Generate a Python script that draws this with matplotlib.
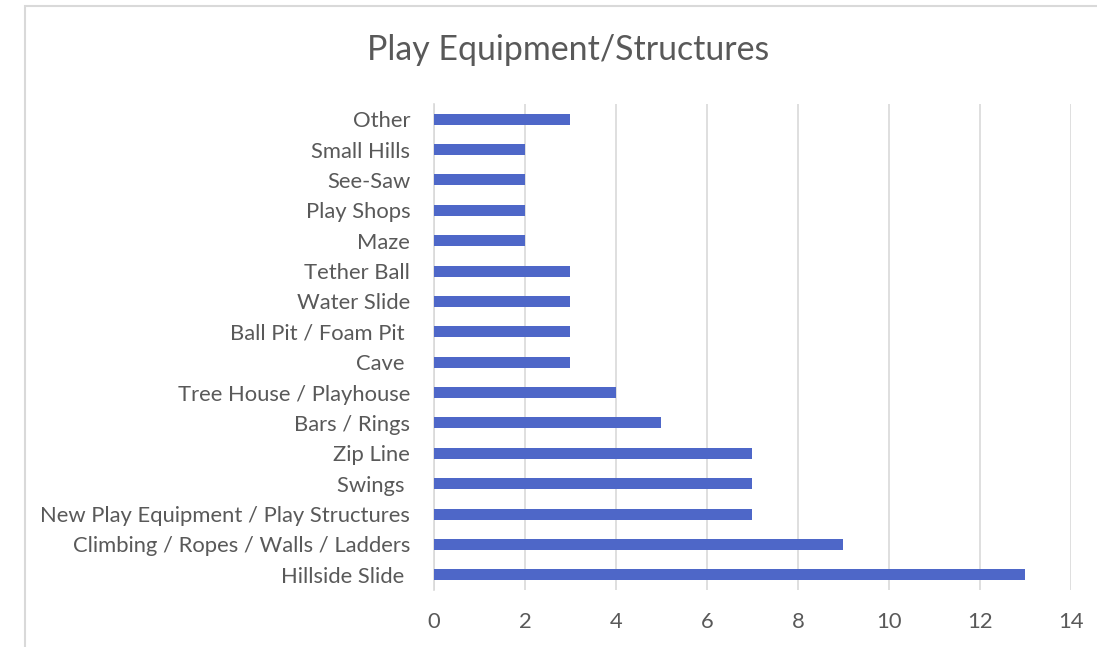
import matplotlib.pyplot as plt
from matplotlib.patches import Rectangle

# categories bottom to top, as drawn
categories = ["Hillside Slide ", "Climbing / Ropes / Walls / Ladders",
              "New Play Equipment / Play Structures", "Swings ", "Zip Line",
              "Bars / Rings", "Tree House / Playhouse", "Cave ",
              "Ball Pit / Foam Pit ", "Water Slide", "Tether Ball", "Maze",
              "Play Shops", "See-Saw", "Small Hills", "Other"]
counts = [13, 9, 7, 7, 7, 5, 4, 3, 3, 3, 3, 2, 2, 2, 2, 3]
x_ticks = [0, 2, 4, 6, 8, 10, 12, 14]

plt.rcParams['font.family'] = ['Lato', 'DejaVu Sans']

fig = plt.figure(figsize=(10.97, 6.47), dpi=100)
ax = fig.add_axes([0.3956, 0.0881, 0.5807, 0.7512])

# outer chart frame (cut off at right and bottom in the original)
fig.patches.append(Rectangle((25 / 1097, -0.1), 1.2, 1 - 6 / 647 + 0.1,
                             transform=fig.transFigure, fill=False,
                             edgecolor='#d9d9d9', linewidth=1.5))

ax.barh(range(len(categories)), counts, height=0.36, color='#4E67C8', zorder=3)
ax.set_yticks(range(len(categories)))
ax.set_yticklabels(categories)
ax.set_ylim(-0.5, len(categories) - 0.5)
ax.set_xlim(0, 14)
ax.set_xticks(x_ticks)
ax.grid(axis='x', color='#d9d9d9', linewidth=1.2, zorder=0)

for s in ['top', 'right', 'bottom']:
    ax.spines[s].set_visible(False)
ax.spines['left'].set_color('#d9d9d9')
ax.spines['left'].set_linewidth(1.2)
ax.tick_params(length=0, colors='#595959', labelsize=15.8)
ax.tick_params(axis='x', pad=16)
ax.tick_params(axis='y', pad=17)

fig.text(0.518, 0.923, "Play Equipment/Structures", ha='center', va='center',
         fontsize=24.4, color='#595959')

fig.savefig('out.png', dpi=100)
